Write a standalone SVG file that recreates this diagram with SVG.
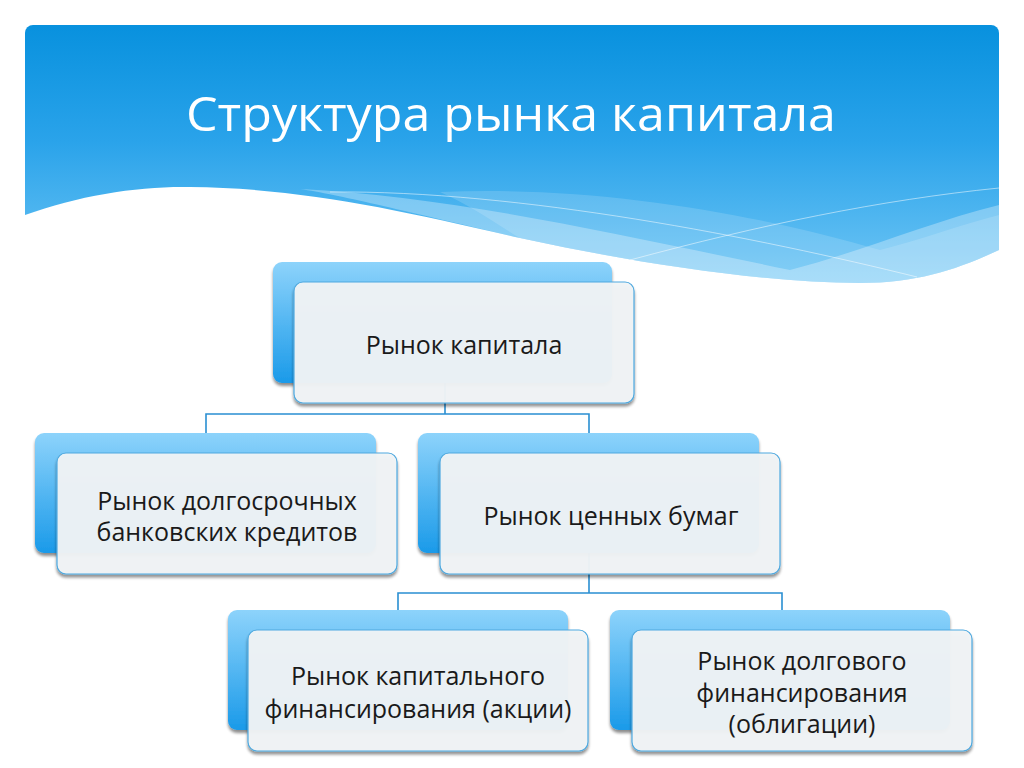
<svg xmlns="http://www.w3.org/2000/svg" width="1024" height="768" viewBox="0 0 1024 768">
<defs>
<linearGradient id="hdr" x1="0" y1="0" x2="0" y2="1">
<stop offset="0" stop-color="#0891de"/>
<stop offset="0.45" stop-color="#2aa3ea"/>
<stop offset="1" stop-color="#6fc6f5"/>
</linearGradient>
<linearGradient id="back" x1="0" y1="0" x2="0" y2="1">
<stop offset="0" stop-color="#8dd3fb"/>
<stop offset="1" stop-color="#1a9ae9"/>
</linearGradient>
<clipPath id="hclip"><rect x="25" y="25" width="974" height="280" rx="8"/></clipPath>
<filter id="sh" x="-10%" y="-10%" width="120%" height="130%">
<feGaussianBlur in="SourceAlpha" stdDeviation="1.5"/>
<feOffset dx="0" dy="2.5" result="b"/>
<feComponentTransfer><feFuncA type="linear" slope="0.45"/></feComponentTransfer>
<feMerge><feMergeNode/><feMergeNode in="SourceGraphic"/></feMerge>
</filter>
</defs>
<style>
.back{fill:url(#back);filter:url(#sh)}
.front{fill:#f1f4f7;fill-opacity:0.95;stroke:#4fa9df;stroke-width:1.2;filter:url(#sh)}
.t{font-family:"Open Sans","Noto Sans",sans-serif;font-size:25px;fill:#1a1a1a;text-anchor:middle}
.c{fill:none;stroke:#2a8fd2;stroke-width:1.6}
.wl{fill:none;stroke:#ffffff;stroke-opacity:0.5;stroke-width:1}
</style>
<rect width="1024" height="768" fill="#ffffff"/>
<g id="header">
<g clip-path="url(#hclip)">
<path d="M25,25 H999 V250 C960,268 920,283 860,283 C760,282 640,264 520,238 C400,210 300,188 190,187 C140,186 80,195 25,215 Z" fill="url(#hdr)"/>
<path d="M300,189 C450,196 620,235 790,270 C860,252 930,222 999,205 V250 C960,268 920,283 860,283 C760,282 640,264 520,238 C400,210 340,195 300,189 Z" fill="#ffffff" fill-opacity="0.3"/>
<path d="M440,192 C600,185 760,215 880,250 C920,240 960,225 999,215 V250 C960,268 920,283 860,283 C760,282 640,264 520,238 C490,220 470,205 440,192 Z" fill="#ffffff" fill-opacity="0.15"/>
<path class="wl" d="M330,192 C520,190 760,238 917,277"/>
<path class="wl" d="M630,260 C760,225 880,200 999,188"/>
</g>
<text x="511" y="131" font-family="'Open Sans','Noto Sans',sans-serif" font-size="48" fill="#ffffff" text-anchor="middle" textLength="650" lengthAdjust="spacingAndGlyphs">Структура рынка капитала</text>
</g>
<g id="connectors">
<path class="c" d="M445,383 V414 M206,433 V414 H589 V433"/>
<path class="c" d="M589,553 V593 M398,610 V593 H782 V610"/>
</g>
<g id="node1">
<rect class="back" x="273" y="262" width="339" height="121" rx="9"/>
<rect class="front" x="294" y="282" width="340" height="121" rx="9"/>
<text class="t" x="464" y="354">Рынок капитала</text>
</g>
<g id="node2">
<rect class="back" x="35" y="433" width="341" height="120" rx="9"/>
<rect class="front" x="57" y="453" width="340" height="121" rx="9"/>
<text class="t" x="227" y="510">Рынок долгосрочных</text>
<text class="t" x="227" y="541">банковских кредитов</text>
</g>
<g id="node3">
<rect class="back" x="418" y="433" width="341" height="120" rx="9"/>
<rect class="front" x="440" y="453" width="340" height="121" rx="9"/>
<text class="t" x="611" y="525">Рынок ценных бумаг</text>
</g>
<g id="node4">
<rect class="back" x="228" y="610" width="340" height="120" rx="9"/>
<rect class="front" x="248" y="630" width="340" height="121" rx="9"/>
<text class="t" x="418" y="685">Рынок капитального</text>
<text class="t" x="418" y="718">финансирования (акции)</text>
</g>
<g id="node5">
<rect class="back" x="610" y="610" width="340" height="120" rx="9"/>
<rect class="front" x="632" y="630" width="340" height="121" rx="9"/>
<text class="t" x="802" y="670">Рынок долгового</text>
<text class="t" x="802" y="702">финансирования</text>
<text class="t" x="802" y="733">(облигации)</text>
</g>
</svg>
